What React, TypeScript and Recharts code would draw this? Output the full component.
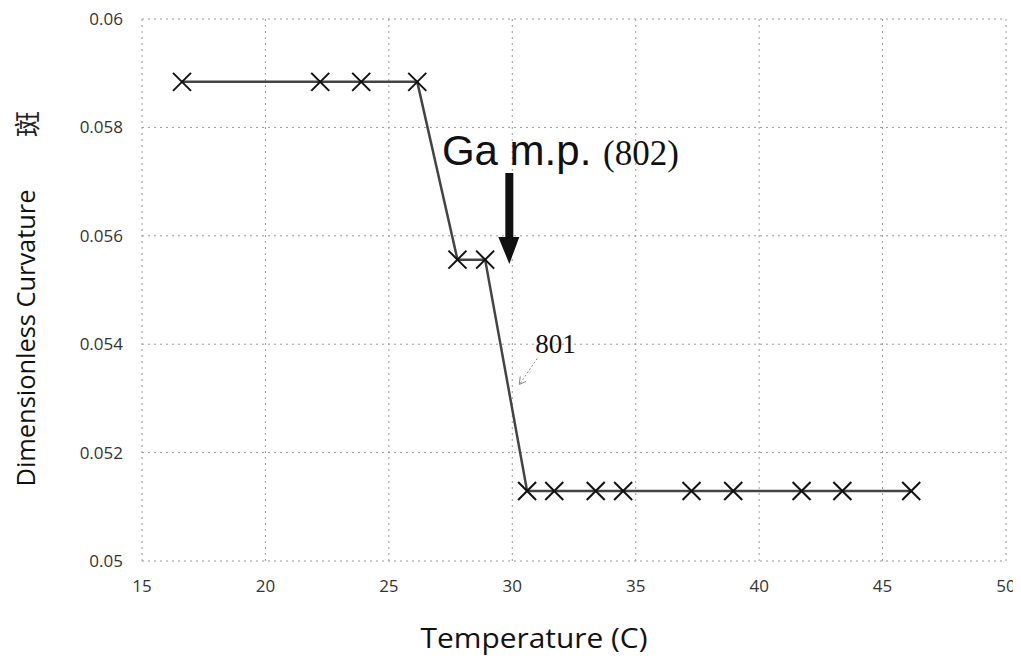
import React from 'react';
import { LineChart, Line, XAxis, YAxis, CartesianGrid, ReferenceDot } from 'recharts';

const temperatures = [16.62, 22.22, 23.88, 26.15, 27.78, 28.9, 30.6, 31.7, 33.38, 34.49, 37.26, 38.95, 41.72, 43.37, 46.16];
const curvatures = [0.05884, 0.05884, 0.05884, 0.05884, 0.05556, 0.05556, 0.05129, 0.05129, 0.05129, 0.05129, 0.05129, 0.05129, 0.05129, 0.05129, 0.05129];
const xTicks = [15, 20, 25, 30, 35, 40, 45, 50];
const yTicks = [0.05, 0.052, 0.054, 0.056, 0.058, 0.06];

const data = temperatures.map((t, i) => ({ t, c: curvatures[i] }));

const XMark = (props: any) => {
  const { cx, cy } = props;
  if (cx == null || cy == null) return null;
  const s = 9;
  return (
    <g>
      <line x1={cx - s} y1={cy - s} x2={cx + s} y2={cy + s} stroke="#111" strokeWidth={2} />
      <line x1={cx - s} y1={cy + s} x2={cx + s} y2={cy - s} stroke="#111" strokeWidth={2} />
    </g>
  );
};

const TitleShape = (props: any) => {
  const { cx, cy } = props;
  return (
    <text x={cx} y={cy} fill="#111">
      <tspan fontFamily="'Liberation Sans', Arial, sans-serif" fontSize={42}>Ga m.p. </tspan>
      <tspan fontFamily="'Liberation Serif', 'Times New Roman', serif" fontSize={35}>(802)</tspan>
    </text>
  );
};

const ArrowShape = (props: any) => {
  const { cx, cy } = props;
  return (
    <g fill="#111">
      <rect x={cx - 4} y={cy - 91} width={8} height={66} />
      <polygon points={`${cx - 11},${cy - 27} ${cx + 10},${cy - 27} ${cx},${cy}`} />
    </g>
  );
};

const LabelShape = (props: any) => {
  const { cx, cy } = props;
  return (
    <g>
      <text x={cx} y={cy} fill="#111" fontFamily="'Liberation Serif', 'Times New Roman', serif" fontSize={27}>801</text>
      <line x1={cx + 2} y1={cy + 5} x2={cx - 15} y2={cy + 30} stroke="#888" strokeWidth={1} strokeDasharray="2 2" />
      <polyline points={`${cx - 15},${cy + 23} ${cx - 16},${cy + 31} ${cx - 9},${cy + 28}`} fill="none" stroke="#888" strokeWidth={1} />
    </g>
  );
};

export default function App() {
  return (
    <div style={{ position: 'relative', width: 1013, height: 659, background: '#fff' }}>
      <LineChart width={1013} height={659} data={data} margin={{ top: 11, right: 15, bottom: 46, left: 0 }}>
        <CartesianGrid stroke="#999" strokeDasharray="2 4" />
        <XAxis
          type="number"
          dataKey="t"
          domain={[15, 50]}
          ticks={xTicks}
          axisLine={false}
          tickLine={false}
          tickSize={6}
          tickMargin={13}
          height={60}
          tick={{ fill: '#333', fontSize: 17, fontFamily: "'Open Sans', sans-serif" }}
          interval={0}
        />
        <YAxis
          type="number"
          domain={[0.05, 0.06]}
          ticks={yTicks}
          axisLine={false}
          tickLine={false}
          tickSize={6}
          tickMargin={13}
          width={134}
          tick={{ fill: '#333', fontSize: 17, fontFamily: "'Open Sans', sans-serif" }}
          interval={0}
          allowDataOverflow
        />
        <Line
          dataKey="c"
          type="linear"
          stroke="#444"
          strokeWidth={2.5}
          dot={<XMark />}
          activeDot={false}
          isAnimationActive={false}
        />
        <ReferenceDot x={27.15} y={0.0573} r={0} shape={<TitleShape />} ifOverflow="visible" />
        <ReferenceDot x={29.88} y={0.05548} r={0} shape={<ArrowShape />} ifOverflow="visible" />
        <ReferenceDot x={30.93} y={0.05383} r={0} shape={<LabelShape />} ifOverflow="visible" />
      </LineChart>
      <svg width={1013} height={659} style={{ position: 'absolute', left: 0, top: 0, pointerEvents: 'none' }}>
        <text
          transform="translate(27,330) rotate(-90)"
          textAnchor="middle"
          fontFamily="'Open Sans', sans-serif"
          fontSize={25}
          fill="#111"
          textLength={297}
          lengthAdjust="spacingAndGlyphs"
        >
          Dimensionless Curvature
        </text>
        <text
          transform="translate(17,116) rotate(-90)"
          textAnchor="middle"
          dominantBaseline="central"
          fontFamily="'Noto Sans CJK SC', sans-serif"
          fontSize={26}
          fill="#222"
        >
          斑
        </text>
        <text
          x={526}
          y={640}
          textAnchor="middle"
          fontFamily="'Open Sans', sans-serif"
          fontSize={27}
          fill="#111"
          textLength={227}
          lengthAdjust="spacingAndGlyphs"
        >
          Temperature (C)
        </text>
      </svg>
    </div>
  );
}
